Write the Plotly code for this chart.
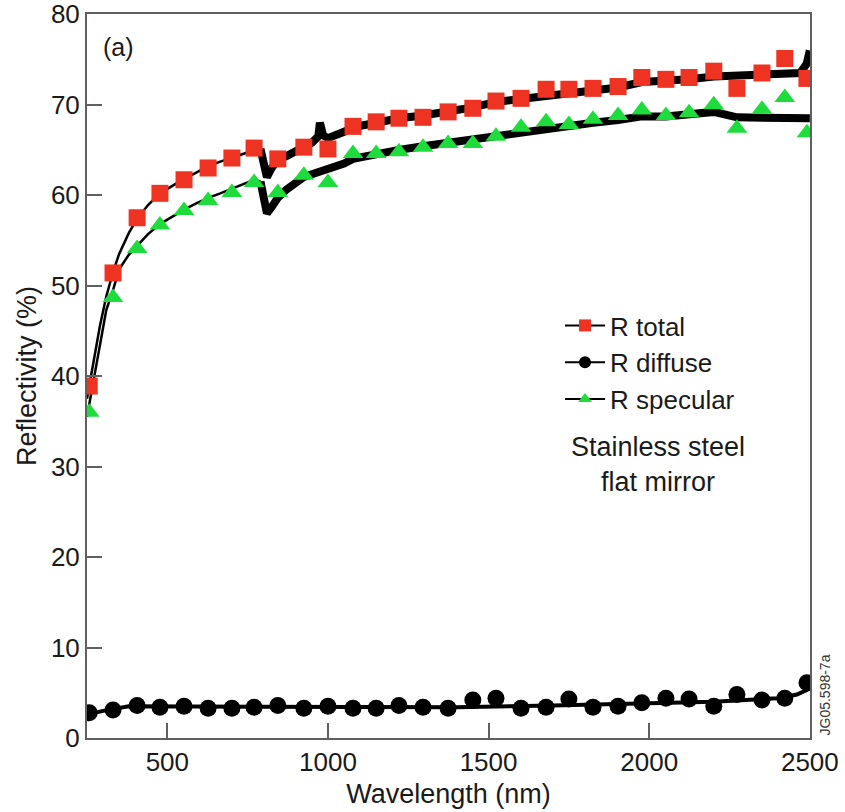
import plotly.graph_objects as go

# Marker wavelengths (nm)
wl_markers = [257, 331, 406, 477, 552, 627, 701, 770, 844, 925, 1000, 1078, 1150, 1221, 1296, 1374,
              1451, 1523, 1601, 1679, 1750, 1825, 1903, 1977, 2052, 2124, 2201, 2273, 2351, 2422, 2491]

r_total = [38.9, 51.4, 57.5, 60.2, 61.7, 63.0, 64.1, 65.2, 64.0, 65.3, 65.1, 67.6, 68.1, 68.5, 68.6, 69.2,
           69.6, 70.4, 70.7, 71.7, 71.7, 71.8, 72.0, 73.0, 72.8, 73.0, 73.7, 71.8, 73.5, 75.1, 72.9]
r_specular = [36.0, 48.7, 54.1, 56.7, 58.3, 59.4, 60.3, 61.4, 60.3, 62.2, 61.4, 64.6, 64.6, 64.8, 65.3, 65.7,
              65.7, 66.5, 67.5, 68.1, 67.8, 68.4, 68.8, 69.4, 68.8, 69.1, 70.0, 67.4, 69.5, 70.8, 66.9]
r_diffuse = [2.8, 3.1, 3.6, 3.4, 3.5, 3.3, 3.3, 3.4, 3.6, 3.3, 3.5, 3.3, 3.3, 3.6, 3.4, 3.3,
             4.2, 4.4, 3.3, 3.4, 4.3, 3.4, 3.5, 3.9, 4.4, 4.3, 3.5, 4.8, 4.2, 4.4, 6.1]

# Measured curves (smooth part, below ~790 nm)
wl_smooth = [250, 270, 290, 310, 331, 350, 380, 406, 440, 477, 515, 552, 590, 627, 665, 701, 740, 770, 790]
total_smooth = [37.5, 41.5, 45.5, 48.8, 51.5, 53.5, 55.8, 57.4, 58.9, 60.2, 61.0, 61.8, 62.5, 63.2, 63.7, 64.1, 64.6, 65.0, 65.1]
spec_smooth = [35.5, 39.5, 43.5, 47.3, 49.5, 51.8, 53.4, 54.4, 55.7, 56.8, 57.6, 58.4, 59.1, 59.7, 60.2, 60.7, 61.3, 61.7, 61.5]

# Measured curves (noisy detector range, above ~790 nm)
wl_noisy = [790, 800, 810, 825, 844, 870, 900, 925, 950, 970, 975, 985, 1000, 1050, 1078, 1150, 1221, 1296, 1374,
            1451, 1523, 1601, 1679, 1750, 1825, 1903, 1977, 2052, 2124, 2201, 2273, 2351, 2422, 2470, 2490, 2500]
total_noisy = [65.1, 63.5, 62.0, 63.0, 64.0, 64.3, 64.8, 65.3, 65.8, 66.5, 68.0, 66.6, 66.3, 67.0, 67.5, 68.0, 68.5, 68.8, 69.2,
               69.7, 70.3, 70.6, 71.1, 71.3, 71.6, 71.9, 72.5, 72.6, 72.8, 73.1, 73.2, 73.4, 73.6, 73.5, 74.5, 76.0]
spec_noisy = [61.5, 59.5, 58.0, 58.7, 59.7, 60.6, 61.3, 62.0, 62.3, 62.5, 62.6, 62.8, 63.0, 63.5, 64.0, 64.6, 65.0, 65.4, 65.8,
              66.1, 66.6, 67.0, 67.4, 67.8, 68.0, 68.3, 68.7, 68.7, 68.9, 69.2, 68.6, 68.6, 68.6, 68.4, 68.5, 68.5]

wl_diffuse_line = [250, 300, 380, 500, 800, 1000, 1400, 1700, 2000, 2200, 2400, 2460, 2490, 2500]
diffuse_line = [2.6, 3.0, 3.5, 3.5, 3.5, 3.4, 3.4, 3.6, 3.9, 4.0, 4.4, 4.8, 5.3, 6.3]

RED = "#EE3322"
GREEN = "#1EDC3C"
FONT = "Liberation Sans, Arial, Helvetica, sans-serif"
TXT = "#1a1a1a"

fig = go.Figure()

line_kw = dict(mode="lines", showlegend=False, hoverinfo="skip")
fig.add_trace(go.Scatter(x=wl_smooth, y=total_smooth, line=dict(color="black", width=2.5), **line_kw))
fig.add_trace(go.Scatter(x=wl_smooth, y=spec_smooth, line=dict(color="black", width=2.5), **line_kw))
fig.add_trace(go.Scatter(x=wl_noisy, y=total_noisy, line=dict(color="black", width=8), **line_kw))
fig.add_trace(go.Scatter(x=wl_noisy, y=spec_noisy, line=dict(color="black", width=8), **line_kw))
fig.add_trace(go.Scatter(x=wl_diffuse_line, y=diffuse_line, line=dict(color="black", width=4), **line_kw))

fig.add_trace(go.Scatter(x=wl_markers, y=r_total, mode="markers", showlegend=False,
                         marker=dict(symbol="square", size=17, color=RED, line=dict(width=0))))
fig.add_trace(go.Scatter(x=wl_markers, y=r_diffuse, mode="markers", showlegend=False,
                         marker=dict(symbol="circle", size=17, color="black", line=dict(width=0))))
fig.add_trace(go.Scatter(x=wl_markers, y=r_specular, mode="markers", showlegend=False,
                         marker=dict(symbol="triangle-up", size=18, color=GREEN, line=dict(width=0))))

# Legend entries
for name, sym, col in [("R total", "square", RED), ("R diffuse", "circle", "black"), ("R specular", "triangle-up", GREEN)]:
    fig.add_trace(go.Scatter(x=[None], y=[None], mode="lines+markers", name=name,
                             line=dict(color="black", width=2),
                             marker=dict(symbol=sym, size=12, color=col, line=dict(width=0))))

axis_common = dict(showgrid=False, zeroline=False, showline=True, linecolor="#606060", linewidth=2,
                   mirror=True, ticks="inside", ticklen=15, tickwidth=2, tickcolor="#606060",
                   ticklabeloverflow="allow", automargin=False,
                   tickfont=dict(family=FONT, size=26, color=TXT))

fig.update_xaxes(range=[250, 2500.5], tickvals=[500, 1000, 1500, 2000, 2500],
                 title=dict(text="Wavelength (nm)", font=dict(family=FONT, size=27, color=TXT), standoff=8),
                 **axis_common)
fig.update_yaxes(range=[0, 80.02], tickvals=[0, 10, 20, 30, 40, 50, 60, 70, 80],
                 title=dict(text="Reflectivity (%)", font=dict(family=FONT, size=27, color=TXT), standoff=6),
                 **axis_common)

fig.add_annotation(x=0.043, y=0.955, xref="paper", yref="paper", text="(a)", showarrow=False,
                   font=dict(family=FONT, size=25, color=TXT), xanchor="center", yanchor="middle")
fig.add_annotation(x=(658 - 87) / 723, y=(738 - 464) / 724, xref="paper", yref="paper",
                   text="Stainless steel<br>flat mirror", showarrow=False, align="center",
                   font=dict(family=FONT, size=27, color=TXT), xanchor="center", yanchor="middle")
fig.add_annotation(x=1.0, y=0.0, xref="paper", yref="paper", text="JG05.598-7a", showarrow=False,
                   textangle=-90, font=dict(family=FONT, size=14, color="#333333"),
                   xanchor="left", yanchor="bottom", xshift=4)

fig.update_layout(
    width=845, height=812,
    margin=dict(l=87, r=35, t=14, b=74, autoexpand=False),
    plot_bgcolor="white", paper_bgcolor="white",
    legend=dict(x=(560 - 87) / 723, y=(738 - 302) / 724, xanchor="left", yanchor="top",
                bgcolor="rgba(0,0,0,0)", font=dict(family=FONT, size=26, color=TXT),
                tracegroupgap=0, itemwidth=40),
)

fig.write_html("out.html")
